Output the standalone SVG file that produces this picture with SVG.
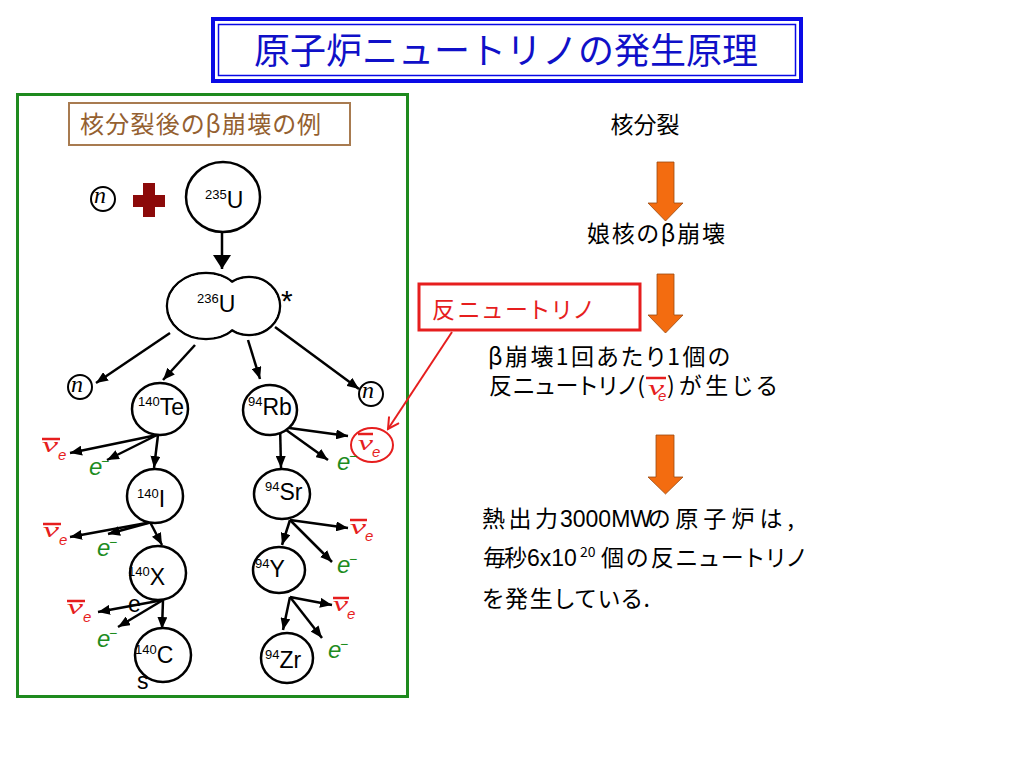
<svg xmlns="http://www.w3.org/2000/svg" width="1024" height="768" viewBox="0 0 1024 768">
<defs>
<style>
.jp{font-family:"Noto Sans CJK JP","Liberation Sans",sans-serif}
.pa{font-feature-settings:"palt" 1}
.nuc{font-family:"Liberation Sans",Arial,sans-serif;font-size:23px;fill:#000}
.sup{font-size:13px}
.node{fill:#fff;stroke:#000;stroke-width:2.5}
.n{font-family:"Liberation Serif",serif;font-style:italic;font-size:24px;fill:#000}
.nu{font-family:"Liberation Serif",serif;font-style:italic;font-size:22px;fill:#E61E1E}
.nue{font-family:"Liberation Sans",sans-serif;font-style:italic;font-size:15px;fill:#E61E1E}
.bar{stroke:#E61E1E;stroke-width:2.5}
.el{font-family:"Liberation Sans",sans-serif;font-style:italic;font-size:24px;fill:#1E8C1E}
.elm{font-family:"Liberation Sans",sans-serif;font-size:14px;fill:#1E8C1E}
.arr{stroke:#000;stroke-width:2.5;fill:none;marker-end:url(#ah)}
.oarr{fill:#F36C10;stroke:#9A4A10;stroke-width:0.8}
.rt{font-size:23px;fill:#000}
.rsup{font-size:14px;fill:#000}
</style>
<marker id="ah" markerUnits="userSpaceOnUse" markerWidth="12" markerHeight="10" refX="12" refY="5" orient="auto"><path d="M0,0 L12,5 L0,10 z" fill="#000"/></marker>
<marker id="bah" markerUnits="userSpaceOnUse" markerWidth="14" markerHeight="18" refX="14" refY="9" orient="auto"><path d="M0,0 L14,9 L0,18 z" fill="#000"/></marker>
<marker id="rah" markerUnits="userSpaceOnUse" markerWidth="14" markerHeight="14" refX="12" refY="7" orient="auto"><path d="M1,1 L12,7 L1,13" fill="none" stroke="#E61E1E" stroke-width="2"/></marker>
</defs>
<rect width="1024" height="768" fill="#fff"/>

<g id="title">
<rect x="213" y="19" width="588" height="62" fill="#fff" stroke="#0A0AE6" stroke-width="4"/>
<rect x="218.5" y="24.5" width="577" height="51" fill="none" stroke="#0A0AE6" stroke-width="1.5"/>
<text class="jp" x="254" y="64" font-size="36" fill="#1010C8">原子炉ニュートリノの発生原理</text>
</g>

<g id="panel">
<rect x="17.5" y="94.5" width="390" height="602" fill="none" stroke="#1E8A1E" stroke-width="3"/>
</g>

<g id="panel-label">
<rect x="69" y="103" width="281" height="42" fill="#fff" stroke="#A87B50" stroke-width="2"/>
<text class="jp pa" x="80" y="133" font-size="24" fill="#946030" textLength="241" lengthAdjust="spacing">核分裂後のβ崩壊の例</text>
</g>

<g id="connectors">
<line x1="222" y1="233" x2="222" y2="269" stroke="#000" stroke-width="2.5" marker-end="url(#bah)"/>
<line class="arr" x1="170" y1="333" x2="96" y2="383"/>
<line class="arr" x1="195" y1="345" x2="163" y2="380"/>
<line class="arr" x1="248" y1="340" x2="260" y2="379"/>
<line class="arr" x1="275" y1="327" x2="359" y2="389"/>
<line class="arr" x1="157" y1="435" x2="70" y2="453"/>
<line class="arr" x1="157" y1="435" x2="107" y2="460"/>
<line class="arr" x1="158" y1="435" x2="154" y2="468"/>
<line class="arr" x1="152" y1="522" x2="70" y2="537"/>
<line class="arr" x1="152" y1="522" x2="108" y2="534"/>
<line class="arr" x1="150" y1="522" x2="162" y2="545"/>
<line class="arr" x1="163" y1="600" x2="98" y2="612"/>
<line class="arr" x1="163" y1="600" x2="118" y2="627"/>
<line class="arr" x1="163" y1="600" x2="162" y2="629"/>
<line class="arr" x1="282" y1="427" x2="348" y2="436"/>
<line class="arr" x1="282" y1="427" x2="328" y2="460"/>
<line class="arr" x1="280" y1="424" x2="281" y2="468"/>
<line class="arr" x1="290" y1="520" x2="282" y2="545"/>
<line class="arr" x1="290" y1="520" x2="348" y2="528"/>
<line class="arr" x1="290" y1="520" x2="332" y2="562"/>
<line class="arr" x1="290" y1="597" x2="283" y2="630"/>
<line class="arr" x1="290" y1="597" x2="332" y2="605"/>
<line class="arr" x1="290" y1="597" x2="322" y2="638"/>
<line x1="452" y1="332" x2="388" y2="429" stroke="#E61E1E" stroke-width="2" marker-end="url(#rah)"/>
</g>

<g id="neutron-in">
<circle cx="103" cy="199" r="12" fill="#fff" stroke="#000" stroke-width="2"/>
<text class="n" x="94" y="203">n</text>
</g>
<g id="plus">
<rect x="143" y="183" width="12" height="34" fill="#8C0A0A"/>
<rect x="133" y="195" width="32" height="12" fill="#8C0A0A"/>
</g>
<g id="U235">
<ellipse class="node" cx="223" cy="197" rx="37" ry="35"/>
<text class="nuc" x="205" y="208"><tspan class="sup" dy="-9">235</tspan><tspan dy="9">U</tspan></text>
</g>
<g id="U236">
<ellipse cx="206" cy="306" rx="39" ry="33" fill="none" stroke="#000" stroke-width="2.5"/>
<ellipse cx="249" cy="306" rx="31" ry="29" fill="none" stroke="#000" stroke-width="2.5"/>
<ellipse cx="206" cy="306" rx="37.8" ry="31.8" fill="#fff"/>
<ellipse cx="249" cy="306" rx="29.8" ry="27.8" fill="#fff"/>
<text class="nuc" x="197" y="312"><tspan class="sup" dy="-9">236</tspan><tspan dy="9">U</tspan></text>
<text x="281" y="311" font-family="Liberation Sans,sans-serif" font-size="30">*</text>
</g>
<g id="n-left">
<circle cx="80" cy="387" r="12" fill="#fff" stroke="#000" stroke-width="2"/>
<text class="n" x="71" y="392">n</text>
</g>
<g id="n-right">
<circle cx="371" cy="394" r="12" fill="#fff" stroke="#000" stroke-width="2"/>
<text class="n" x="362" y="398">n</text>
</g>
<g id="Te140">
<ellipse class="node" cx="160" cy="409" rx="28" ry="26"/>
<text class="nuc" x="138" y="415"><tspan class="sup" dy="-9">140</tspan><tspan dy="9">Te</tspan></text>
</g>
<g id="Rb94">
<ellipse class="node" cx="270" cy="410" rx="27" ry="25"/>
<text class="nuc" x="248" y="415"><tspan class="sup" dy="-9">94</tspan><tspan dy="9">Rb</tspan></text>
</g>
<g id="I140">
<ellipse class="node" cx="155" cy="496" rx="28" ry="27"/>
<text class="nuc" x="137" y="507"><tspan class="sup" dy="-9">140</tspan><tspan dy="9">I</tspan></text>
</g>
<g id="Sr94">
<ellipse class="node" cx="282" cy="494" rx="28" ry="25"/>
<text class="nuc" x="265" y="500"><tspan class="sup" dy="-9">94</tspan><tspan dy="9">Sr</tspan></text>
</g>
<g id="X140">
<ellipse class="node" cx="158" cy="573" rx="28" ry="27"/>
<text class="nuc" x="128" y="585"><tspan class="sup" dy="-9">140</tspan><tspan dy="9">X</tspan></text>
<text x="128" y="612" font-family="Liberation Sans,sans-serif" font-size="23">e</text>
</g>
<g id="Y94">
<ellipse class="node" cx="279" cy="570" rx="26" ry="23"/>
<text class="nuc" x="255" y="577"><tspan class="sup" dy="-9">94</tspan><tspan dy="9">Y</tspan></text>
</g>
<g id="Cs140">
<ellipse class="node" cx="163" cy="655" rx="28" ry="27"/>
<text class="nuc" x="135" y="663"><tspan class="sup" dy="-9">140</tspan><tspan dy="9">C</tspan></text>
<text class="nuc" x="137" y="689">s</text>
</g>
<g id="Zr94">
<ellipse class="node" cx="287" cy="658" rx="26" ry="25"/>
<text class="nuc" x="265" y="668"><tspan class="sup" dy="-9">94</tspan><tspan dy="9">Zr</tspan></text>
</g>

<g id="nu-Te">
<line class="bar" x1="42" y1="439" x2="60" y2="439"/>
<text class="nu" x="42" y="452" textLength="16" lengthAdjust="spacingAndGlyphs">ν</text>
<text class="nue" x="58" y="460">e</text>
</g>
<g id="nu-I">
<line class="bar" x1="43" y1="524" x2="61" y2="524"/>
<text class="nu" x="43" y="537" textLength="16" lengthAdjust="spacingAndGlyphs">ν</text>
<text class="nue" x="59" y="545">e</text>
</g>
<g id="nu-X">
<line class="bar" x1="67" y1="601" x2="85" y2="601"/>
<text class="nu" x="67" y="614" textLength="16" lengthAdjust="spacingAndGlyphs">ν</text>
<text class="nue" x="83" y="622">e</text>
</g>
<g id="nu-Rb">
<ellipse cx="372" cy="445" rx="21" ry="17" fill="none" stroke="#E61E1E" stroke-width="2"/>
<line class="bar" x1="358" y1="434" x2="373" y2="434"/>
<text class="nu" x="358" y="450" textLength="15" lengthAdjust="spacingAndGlyphs">ν</text>
<text class="nue" x="372" y="457">e</text>
</g>
<g id="nu-Sr">
<line class="bar" x1="350" y1="520" x2="367" y2="520"/>
<text class="nu" x="350" y="534" textLength="16" lengthAdjust="spacingAndGlyphs">ν</text>
<text class="nue" x="365" y="541">e</text>
</g>
<g id="nu-Y">
<line class="bar" x1="333" y1="598" x2="349" y2="598"/>
<text class="nu" x="333" y="611" textLength="15" lengthAdjust="spacingAndGlyphs">ν</text>
<text class="nue" x="347" y="619">e</text>
</g>

<g id="e-Te"><text class="el" x="89" y="475">e</text><text class="elm" x="101" y="466">−</text></g>
<g id="e-I"><text class="el" x="97" y="556">e</text><text class="elm" x="109" y="547">−</text></g>
<g id="e-X"><text class="el" x="97" y="647">e</text><text class="elm" x="109" y="638">−</text></g>
<g id="e-Rb"><text class="el" x="337" y="470">e</text><text class="elm" x="349" y="461">−</text></g>
<g id="e-Sr"><text class="el" x="337" y="573">e</text><text class="elm" x="349" y="564">−</text></g>
<g id="e-Y"><text class="el" x="328" y="658">e</text><text class="elm" x="340" y="649">−</text></g>

<g id="antineutrino-label">
<rect x="419" y="284" width="221" height="46" fill="#fff" stroke="#E61E1E" stroke-width="3"/>
<text class="jp pa" x="432" y="318" font-size="23" fill="#E61E1E" textLength="160" lengthAdjust="spacing">反ニュートリノ</text>
</g>

<g id="step-fission">
<text class="jp rt" x="645" y="133" text-anchor="middle">核分裂</text>
</g>
<g id="arrow1"><path class="oarr" d="M657,162 H674 V203 H683 L665.5,221 L648,203 H657 Z"/></g>
<g id="step-beta">
<text class="jp pa rt" x="587" y="242" textLength="138" lengthAdjust="spacing">娘核のβ崩壊</text>
</g>
<g id="arrow2"><path class="oarr" d="M657,274 H674 V315 H683 L665.5,333 L648,315 H657 Z"/></g>
<g id="step-nu">
<text class="jp pa rt" x="488" y="365" textLength="242" lengthAdjust="spacing">β崩壊1回あたり1個の</text>
<text class="jp pa rt" x="489" y="394" textLength="156" lengthAdjust="spacing">反ニュートリノ(</text>
<line class="bar" x1="646" y1="378" x2="666" y2="378"/>
<text class="nu" x="648" y="395" textLength="16" lengthAdjust="spacingAndGlyphs">ν</text>
<text class="nue" x="658" y="401">e</text>
<text class="jp pa rt" x="667" y="394" textLength="110" lengthAdjust="spacing">)が生じる</text>
</g>
<g id="arrow3"><path class="oarr" d="M656,435 H674 V477 H683 L665.5,494 L648,477 H656 Z"/></g>
<g id="step-rate">
<text class="jp pa rt" x="482" y="527" textLength="76" lengthAdjust="spacing">熱出力</text>
<text class="rt" x="560" y="527" font-family="Liberation Sans,sans-serif">3000MW</text>
<text class="jp pa rt" x="648" y="527" textLength="146" lengthAdjust="spacing">の原子炉は,</text>
<text class="jp pa rt" x="483" y="566" textLength="44" lengthAdjust="spacing">毎秒</text>
<text class="rt" x="527" y="566" font-family="Liberation Sans,sans-serif">6x10</text>
<text class="jp rsup" x="580" y="557">20</text>
<text class="jp pa rt" x="601" y="566" textLength="204" lengthAdjust="spacing">個の反ニュートリノ</text>
<text class="jp pa rt" x="482" y="607" textLength="168" lengthAdjust="spacing">を発生している.</text>
</g>
</svg>
